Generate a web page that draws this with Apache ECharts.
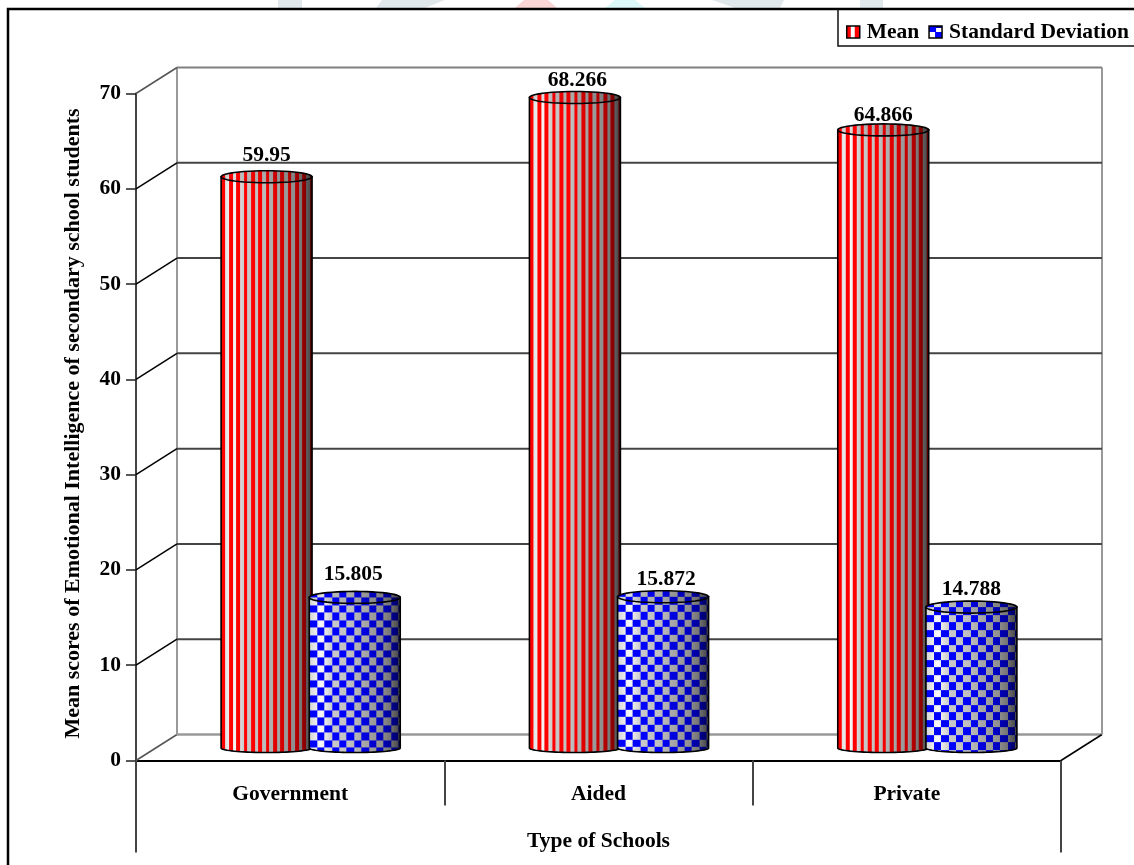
<!DOCTYPE html>
<html>
<head>
<meta charset="utf-8">
<style>html,body{margin:0;padding:0;background:#fff}#chart{width:1134px;height:865px}</style>
<script src="https://cdn.jsdelivr.net/npm/echarts@6/dist/echarts.min.js"></script>
</head>
<body>
<div id="chart"></div>
<script>
// Survey results by school type
const categories = ['Government', 'Aided', 'Private'];
const meanValues = [59.95, 68.266, 64.866];
const sdValues = [15.805, 15.872, 14.788];
const yTicks = [0, 10, 20, 30, 40, 50, 60, 70];
const seriesNames = ['Mean', 'Standard Deviation'];
const yTitle = 'Mean scores of Emotional Intelligence of secondary school students';
const xTitle = ['Type of Schools'];

// Hand placement of the value labels above each cylinder, as [dx, dy]
const meanLabelNudge = [[0, 0], [2.5, 4], [0, 7]];
const sdLabelNudge = [[-1.5, -1], [3, 4], [0, 4]];

const FONT = '"Liberation Serif", "Times New Roman", serif';
const BOLD = { fontFamily: FONT, fontWeight: 'bold', fontSize: 21.5, color: '#000' };

// Perspective of the fake 3D box
const DEPTH_X = 41, DEPTH_Y = -26;
const CYL_DX = 20.5, CYL_DY = -12.5;   // cylinders stand mid-way across the floor
const CYL_WIDTH_RATIO = 0.295, CYL_SHIFT_RATIO = 0.143;
const TOP_RY = 6, BOTTOM_RY = 4.5;

// Brightness across the curved surface (t = 0 left edge, 1 right edge)
function shade(t) {
  const stops = [[0, 1.12], [0.13, 1.3], [0.25, 1.05], [0.45, 1], [0.6, 0.88], [0.8, 0.75], [0.9, 0.6], [1, 0.35]];
  for (let i = 1; i < stops.length; i++) {
    if (t <= stops[i][0]) {
      const a = stops[i - 1], b = stops[i];
      return a[1] + (b[1] - a[1]) * (t - a[0]) / (b[0] - a[0]);
    }
  }
  return 0.35;
}
function tint(rgb, f) {
  const c = rgb.map(v => Math.min(255, Math.round(v * f)));
  return 'rgb(' + c.join(',') + ')';
}

// Tiles are as wide as a cylinder, so the shading stays put across it
const tileCache = {};
function surfaceTile(kind, width, dim) {
  const key = kind + width + '_' + dim;
  if (tileCache[key]) return tileCache[key];
  const w = Math.round(width);
  const h = kind === 'stripe' ? 1 : 15;
  const cv = document.createElement('canvas');
  cv.width = w; cv.height = h;
  const ctx = cv.getContext('2d');
  const gray = [192, 192, 192];
  for (let x = 0; x < w; x++) {
    const f = shade(x / (w - 1)) * dim;
    for (let y = 0; y < h; y++) {
      let col;
      if (kind === 'stripe') {
        col = Math.floor(x / 3.67) % 2 === 0 ? [255, 0, 0] : gray;
      } else {
        col = (Math.floor(x / 7.4) + Math.floor(y / 7.5)) % 2 === 1 ? [0, 0, 255] : gray;
      }
      ctx.fillStyle = tint(col, f);
      ctx.fillRect(x, y, 1, 1);
    }
  }
  return (tileCache[key] = cv);
}

// Small swatches for the legend
function swatch(kind) {
  const cv = document.createElement('canvas');
  cv.width = 13; cv.height = 12;
  const ctx = cv.getContext('2d');
  ctx.fillStyle = '#fff';
  ctx.fillRect(0, 0, 13, 12);
  if (kind === 'stripe') {
    ctx.fillStyle = '#f00';
    ctx.fillRect(0, 0, 4, 12);
    ctx.fillRect(8, 0, 5, 12);
  } else {
    ctx.fillStyle = '#00f';
    ctx.fillRect(0, 0, 7, 6);
    ctx.fillRect(6, 6, 7, 6);
    ctx.fillStyle = '#00a';
    ctx.fillRect(7, 0, 6, 2);
  }
  return cv;
}

function arcPoints(cx, cy, rx, ry, from, to, n) {
  const pts = [];
  for (let i = 0; i <= n; i++) {
    const a = from + (to - from) * i / n;
    pts.push([cx + rx * Math.cos(a), cy + ry * Math.sin(a)]);
  }
  return pts;
}

function cylinderRenderer(kind, sign, nudges) {
  return function (params, api) {
    const base = api.coord([api.value(0), 0]);
    const top = api.coord([api.value(0), api.value(1)]);
    const band = api.size([1, 0])[0];
    const width = band * CYL_WIDTH_RATIO;
    const cx = base[0] + CYL_DX + sign * band * CYL_SHIFT_RATIO;
    const by = base[1] + CYL_DY;
    const ty = top[1] + CYL_DY;
    const rx = width / 2;
    const left = cx - rx;
    const nudge = nudges[params.dataIndex];
    const body = [[left, ty]].concat(
      arcPoints(cx, by, rx, BOTTOM_RY, Math.PI, 0, 36),
      [[cx + rx, ty]]
    );
    return {
      type: 'group',
      children: [
        {
          type: 'polygon',
          shape: { points: body },
          style: {
            fill: { image: surfaceTile(kind, width, 1), repeat: 'repeat', x: left, y: ty },
            stroke: '#000', lineWidth: 1.6
          }
        },
        {
          type: 'polygon',
          shape: { points: arcPoints(cx, ty, rx, TOP_RY, 0, Math.PI * 2, 48) },
          style: {
            fill: { image: surfaceTile(kind, width, 0.9), repeat: 'repeat', x: left, y: ty },
            stroke: '#000', lineWidth: 1.6
          }
        },
        {
          type: 'text',
          style: {
            text: String(api.value(1)),
            x: cx + nudge[0], y: ty - 21.5 + nudge[1],
            align: 'center', verticalAlign: 'middle',
            font: 'bold 21.5px ' + FONT, fill: '#000'
          }
        }
      ]
    };
  };
}

// Back wall, side wall and floor, hung off the value axis
function renderWalls(params, api) {
  const rect = params.coordSys;
  const p = api.coord([0, api.value(1)]);
  const y = p[1];
  const x0 = rect.x, x1 = rect.x + rect.width;
  const v = api.value(1);
  const isEdge = v === 0 || v === 70;
  const children = [
    {
      type: 'line',
      shape: { x1: x0, y1: y, x2: x0 + DEPTH_X, y2: y + DEPTH_Y },
      style: { stroke: isEdge ? '#555' : '#000', lineWidth: 1.5 }
    },
    {
      type: 'line',
      shape: { x1: x0 + DEPTH_X, y1: y + DEPTH_Y, x2: x1 + DEPTH_X, y2: y + DEPTH_Y },
      style: { stroke: v === 0 ? '#999' : v === 70 ? '#808080' : '#444', lineWidth: v === 0 ? 2.5 : 2 }
    }
  ];
  if (v === 0) {
    children.push({
      type: 'line',
      shape: { x1: x1, y1: y, x2: x1 + DEPTH_X, y2: y + DEPTH_Y },
      style: { stroke: '#000', lineWidth: 1.5 }
    });
    const yt = rect.y + DEPTH_Y;
    [x0, x1].forEach(function (x) {
      children.push({
        type: 'line',
        shape: { x1: x + DEPTH_X, y1: y + DEPTH_Y, x2: x + DEPTH_X, y2: yt },
        style: { stroke: '#999', lineWidth: 2 }
      });
    });
  }
  return { type: 'group', children: children };
}

const chart = echarts.init(document.getElementById('chart'), null, { renderer: 'canvas' });

chart.setOption({
  animation: false,
  backgroundColor: '#fff',
  textStyle: { fontFamily: FONT },
  grid: { left: 136, right: 73, top: 93.5, bottom: 104.5, containLabel: false },
  legend: {
    left: 838, top: 14, padding: [7, 0, 7, 8],
    itemWidth: 13, itemHeight: 12, itemGap: 9,
    icon: 'rect',
    selectedMode: false,
    textStyle: Object.assign({ padding: [0, 0, 0, 2] }, BOLD),
    data: [
      { name: seriesNames[0], itemStyle: { color: { image: swatch('stripe'), repeat: 'repeat' }, borderColor: '#000', borderWidth: 1.5 } },
      { name: seriesNames[1], itemStyle: { color: { image: swatch('check'), repeat: 'repeat' }, borderColor: '#000', borderWidth: 1.5 } }
    ]
  },
  xAxis: [
    {
      type: 'category',
      data: categories,
      position: 'bottom',
      axisLine: { lineStyle: { color: '#000', width: 2 } },
      axisTick: { show: true, length: 45, lineStyle: { color: '#444', width: 2 } },
      axisLabel: Object.assign({ margin: 23, interval: 0 }, BOLD)
    },
    {
      type: 'category',
      data: xTitle,
      position: 'bottom',
      axisLine: { show: false },
      axisTick: { show: true, length: 92, lineStyle: { color: '#444', width: 2 } },
      axisLabel: Object.assign({ margin: 70 }, BOLD)
    }
  ],
  yAxis: {
    type: 'value',
    min: 0, max: 70, interval: 10,
    name: yTitle,
    nameLocation: 'middle',
    nameGap: 52,
    nameRotate: 90,
    nameTextStyle: { fontFamily: FONT, fontWeight: 'bold', fontSize: 22, color: '#000', padding: [0, 0, 0, 7] },
    axisLine: { show: true, lineStyle: { color: '#444', width: 2 } },
    axisTick: { show: true, length: 10, lineStyle: { color: '#222', width: 1.5 } },
    axisLabel: Object.assign({ margin: 15, formatter: function (v) { return yTicks.indexOf(v) >= 0 ? String(v) : ''; } }, BOLD),
    splitLine: { show: false }
  },
  series: [
    {
      type: 'custom', name: 'walls', z: 1, silent: true,
      renderItem: renderWalls,
      encode: { x: 0, y: 1 },
      data: yTicks.map(function (v) { return [0, v]; })
    },
    {
      type: 'custom', name: seriesNames[0], z: 3,
      renderItem: cylinderRenderer('stripe', -1, meanLabelNudge),
      encode: { x: 0, y: 1 },
      data: meanValues.map(function (v, i) { return [i, v]; })
    },
    {
      type: 'custom', name: seriesNames[1], z: 4,
      renderItem: cylinderRenderer('check', 1, sdLabelNudge),
      encode: { x: 0, y: 1 },
      data: sdValues.map(function (v, i) { return [i, v]; })
    }
  ],
  graphic: [
    // Outer frame and legend box
    { type: 'polyline', z: 10, shape: { points: [[8, 865], [8, 9], [1134, 9]] }, style: { fill: null, stroke: '#000', lineWidth: 2.5 } },
    { type: 'polyline', z: 10, shape: { points: [[838, 9], [838, 46], [1134, 46]] }, style: { fill: null, stroke: '#111', lineWidth: 1.5 } },
    // Faint background marks along the top edge
    { type: 'polygon', shape: { points: [[278, 0], [302, 0], [302, 8], [278, 8]] }, style: { fill: '#e1e8ec' } },
    { type: 'polygon', shape: { points: [[376, 8], [382, 0], [445, 0], [425, 8]] }, style: { fill: '#e1e8ec' } },
    { type: 'polygon', shape: { points: [[515, 8], [524, 0], [548, 0], [557, 8]] }, style: { fill: '#fbd6d6' } },
    { type: 'polygon', shape: { points: [[605, 8], [615, 0], [635, 0], [645, 8]] }, style: { fill: '#dcf8f8' } },
    { type: 'polygon', shape: { points: [[712, 0], [784, 0], [780, 8], [735, 8]] }, style: { fill: '#e1e8ec' } },
    { type: 'polygon', shape: { points: [[860, 0], [883, 0], [883, 8], [860, 8]] }, style: { fill: '#e1e8ec' } }
  ]
});
</script>
</body>
</html>
